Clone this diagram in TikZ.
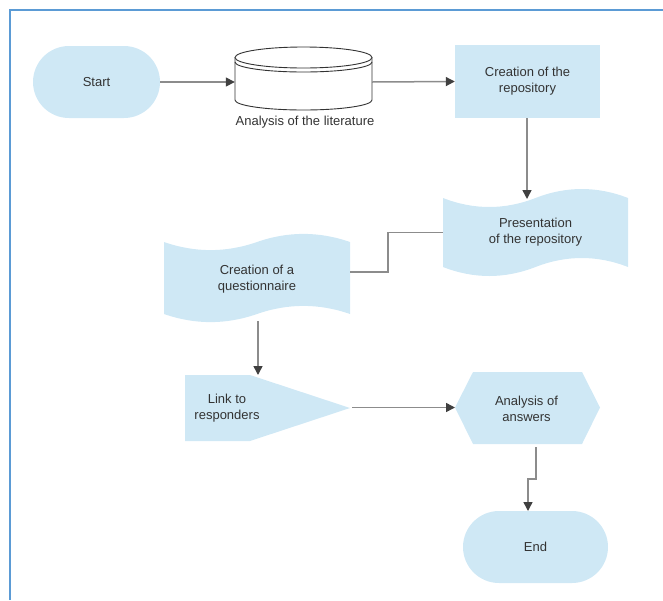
\documentclass[tikz,border=0pt]{standalone}
\usepackage{fontspec}
\setmainfont{Liberation Sans}
\usetikzlibrary{arrows.meta}
\definecolor{shapefill}{RGB}{207,232,245}
\definecolor{txtcol}{RGB}{51,51,51}
\definecolor{linecol}{RGB}{140,140,140}
\definecolor{headcol}{RGB}{64,64,64}
\definecolor{framecol}{RGB}{91,155,213}
\begin{document}
\begin{tikzpicture}[x=1pt,y=-1pt,
  txt/.style={text=txtcol,font=\fontsize{13}{16}\selectfont,align=center,inner sep=0pt},
  blob/.style={fill=shapefill,draw=none},
  conn/.style={draw=linecol,line width=1.5pt},
  arr/.style={conn,-{Triangle[length=9pt,width=9pt,color=headcol,fill=headcol]}},
  cyl/.style={draw=black!80,line width=0.9pt,fill=white}
]
\useasboundingbox (0,0) rectangle (663,600);
% frame
\draw[draw=framecol,line width=2pt] (9.5,600) -- (9.5,9.5) -- (663,9.5);

% Start
\node[blob,txt,rounded corners=36pt,minimum width=127pt,minimum height=72pt] (start) at (96.5,82) {Start};

% Cylinder (Analysis of the literature)
\node[inner sep=0pt,minimum width=137pt,minimum height=63pt] (lit) at (303.5,82) {};
\draw[cyl] (235,57.5) -- (235,100) arc[start angle=180,end angle=360,x radius=68.5pt,y radius=10pt] -- (372,57.5);
\draw[cyl] (303.5,57.5) ellipse[x radius=68.5pt,y radius=10.5pt];
\draw[draw=black!80,line width=0.9pt] (235,62) arc[start angle=180,end angle=360,x radius=68.5pt,y radius=10pt];
\node[txt] (litlabel) at (305,122) {Analysis of the literature};

% Creation of the repository
\node[blob,txt,minimum width=145pt,minimum height=73pt] (repo) at (527.5,81.5) {Creation of the\\repository};

% Presentation of the repository (tape)
\fill[shapefill] (443,198) .. controls (473.8,210) and (504.7,210) .. (535.5,198)
  .. controls (566.3,186) and (597.2,186) .. (628,198) -- (628,267)
  .. controls (597.2,255) and (566.3,255) .. (535.5,267)
  .. controls (504.7,279) and (473.8,279) .. (443,267) -- cycle;
\node[txt,minimum width=185pt,minimum height=89pt] (pres) at (535.5,232.5) {Presentation\\of the repository};
\coordinate (presN) at (527,199);

% Creation of a questionnaire (tape)
\fill[shapefill] (164,242) .. controls (195,252.8) and (226,252.8) .. (257,242)
  .. controls (288,231.2) and (319,231.2) .. (350,242) -- (350,314)
  .. controls (319,303.2) and (288,303.2) .. (257,314)
  .. controls (226,324.8) and (195,324.8) .. (164,314) -- cycle;
\node[txt,minimum width=186pt,minimum height=90pt] (quest) at (257,279) {Creation of a\\questionnaire};
\coordinate (questS) at (258,321);
\coordinate (questE) at (350,272);

% Link to responders
\fill[shapefill] (185,375) -- (250,375) -- (350,408) -- (250,441) -- (185,441) -- cycle;
\node[txt] (link) at (227,408) {Link to\\responders};
\coordinate (linkN) at (258,375);
\coordinate (linkE) at (352,407.5);

% Analysis of answers (hexagon)
\fill[shapefill] (455,407.5) -- (473,372) -- (582,372) -- (600,407.5) -- (582,444) -- (473,444) -- cycle;
\node[txt] (ans) at (526.5,409) {Analysis of\\answers};
\coordinate (ansW) at (455,407.5);
\coordinate (ansS) at (536,447);

% End
\node[blob,txt,rounded corners=36pt,minimum width=145pt,minimum height=72pt] (end) at (535.5,547) {End};
\coordinate (endN) at (528,511);

% connectors
\draw[arr] (start.east) -- (lit.west);
\draw[arr] (lit.east) -- (repo.west);
\draw[arr] ([xshift=-0.5pt]repo.south) -- (presN);
\draw[conn] (pres.west) -- ++(-55,0) |- (questE);
\draw[arr] (questS) -- (linkN);
\draw[arr] (linkE) -- (ansW);
\draw[arr] (ansS) -- (536,479) -| (endN);
\end{tikzpicture}
\end{document}
